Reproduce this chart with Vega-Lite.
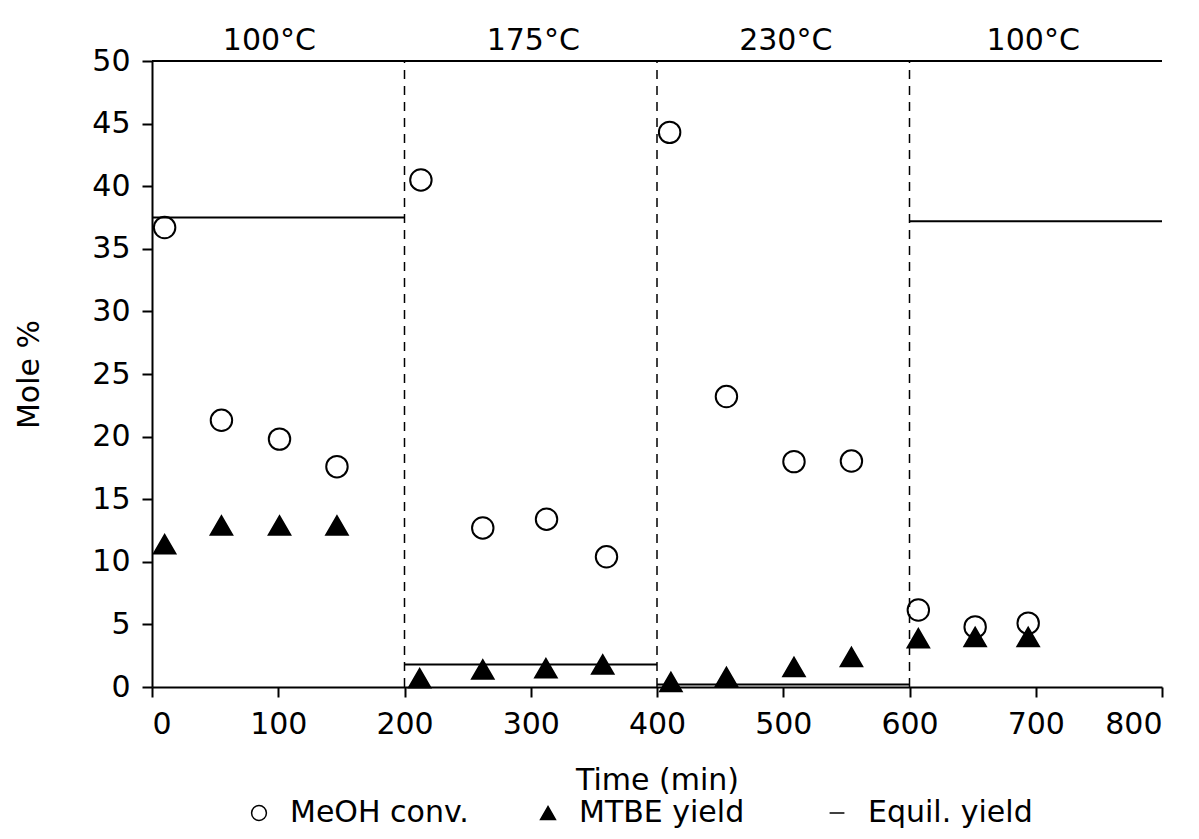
{
  "$schema": "https://vega.github.io/schema/vega-lite/v6.json",
  "width": 1010,
  "height": 626,
  "autosize": "none",
  "padding": {"left": 152, "top": 61, "right": 37, "bottom": 152},
  "background": "white",
  "config": {
    "font": "DejaVu Sans",
    "view": {"stroke": null},
    "axis": {
      "grid": false,
      "domainColor": "black",
      "domainWidth": 2,
      "tickColor": "black",
      "tickWidth": 2,
      "tickSize": 10,
      "labelColor": "black",
      "labelFontSize": 30,
      "labelFont": "DejaVu Sans",
      "titleColor": "black",
      "titleFontSize": 30,
      "titleFont": "DejaVu Sans",
      "titleFontWeight": "normal"
    }
  },
  "datasets": {
    "points": [
      {"time": 10, "value": 36.7, "series": "MeOH conv."},
      {"time": 55, "value": 21.3, "series": "MeOH conv."},
      {"time": 101, "value": 19.8, "series": "MeOH conv."},
      {"time": 146.5, "value": 17.6, "series": "MeOH conv."},
      {"time": 213, "value": 40.5, "series": "MeOH conv."},
      {"time": 262, "value": 12.7, "series": "MeOH conv."},
      {"time": 312.5, "value": 13.4, "series": "MeOH conv."},
      {"time": 360, "value": 10.4, "series": "MeOH conv."},
      {"time": 410, "value": 44.3, "series": "MeOH conv."},
      {"time": 455, "value": 23.2, "series": "MeOH conv."},
      {"time": 508.5, "value": 18.0, "series": "MeOH conv."},
      {"time": 554, "value": 18.05, "series": "MeOH conv."},
      {"time": 607, "value": 6.15, "series": "MeOH conv."},
      {"time": 652, "value": 4.8, "series": "MeOH conv."},
      {"time": 694, "value": 5.1, "series": "MeOH conv."},
      {"time": 10, "value": 11.4, "series": "MTBE yield"},
      {"time": 55, "value": 12.9, "series": "MTBE yield"},
      {"time": 101, "value": 12.9, "series": "MTBE yield"},
      {"time": 146.5, "value": 12.9, "series": "MTBE yield"},
      {"time": 212, "value": 0.7, "series": "MTBE yield"},
      {"time": 262, "value": 1.4, "series": "MTBE yield"},
      {"time": 312, "value": 1.5, "series": "MTBE yield"},
      {"time": 357, "value": 1.8, "series": "MTBE yield"},
      {"time": 411, "value": 0.4, "series": "MTBE yield"},
      {"time": 455, "value": 0.8, "series": "MTBE yield"},
      {"time": 508.5, "value": 1.6, "series": "MTBE yield"},
      {"time": 554, "value": 2.4, "series": "MTBE yield"},
      {"time": 607, "value": 3.9, "series": "MTBE yield"},
      {"time": 652, "value": 4.0, "series": "MTBE yield"},
      {"time": 694, "value": 4.0, "series": "MTBE yield"}
    ],
    "equil": [
      {"start": 0, "end": 200, "value": 37.5},
      {"start": 200, "end": 400, "value": 1.8},
      {"start": 400, "end": 600, "value": 0.2},
      {"start": 600, "end": 800, "value": 37.2}
    ],
    "dividers": [
      {"time": 200},
      {"time": 400},
      {"time": 600}
    ],
    "temps": [
      {"time": 93, "label": "100°C"},
      {"time": 302, "label": "175°C"},
      {"time": 502, "label": "230°C"},
      {"time": 698, "label": "100°C"}
    ]
  },
  "layer": [
    {
      "data": {"values": [{"a": 1}]},
      "mark": {"type": "rule", "color": "black", "strokeWidth": 2},
      "encoding": {
        "x": {"datum": 0, "type": "quantitative", "scale": {"domain": [0, 800], "nice": false}, "axis": {"values": [0, 100, 200, 300, 400, 500, 600, 700, 800], "title": "Time (min)", "labelPadding": 12, "titlePadding": 26}},
        "x2": {"datum": 800},
        "y": {"datum": 50, "type": "quantitative", "scale": {"domain": [0, 50], "nice": false}, "axis": {"values": [0, 5, 10, 15, 20, 25, 30, 35, 40, 45, 50], "title": "Mole %", "labelPadding": 12, "titlePadding": 47}}
      }
    },
    {
      "data": {"name": "dividers"},
      "mark": {"type": "rule", "color": "black", "strokeWidth": 1.5, "strokeDash": [9, 7]},
      "encoding": {
        "x": {"field": "time", "type": "quantitative"},
        "y": {"datum": 0, "type": "quantitative"},
        "y2": {"datum": 50}
      }
    },
    {
      "data": {"name": "equil"},
      "mark": {"type": "rule", "color": "black", "strokeWidth": 2},
      "encoding": {
        "x": {"field": "start", "type": "quantitative"},
        "x2": {"field": "end"},
        "y": {"field": "value", "type": "quantitative"}
      }
    },
    {
      "data": {"name": "points"},
      "mark": {"type": "point", "color": "black", "strokeWidth": 2, "opacity": 1, "size": 460},
      "encoding": {
        "x": {"field": "time", "type": "quantitative"},
        "y": {"field": "value", "type": "quantitative"},
        "shape": {
          "field": "series", "type": "nominal",
          "scale": {"domain": ["MeOH conv.", "MTBE yield", "Equil. yield"], "range": ["circle", "triangle-up", "stroke"]},
          "legend": {
            "title": null, "orient": "none", "direction": "horizontal",
            "legendX": 92, "legendY": 737, "padding": 0, "gridAlign": "all",
            "labelFontSize": 30, "labelFont": "DejaVu Sans", "labelColor": "black", "labelLimit": 500,
            "symbolSize": 220, "labelOffset": 16, "columnPadding": 64,
            "encode": {"symbols": {"update": {"stroke": {"value": "black"}, "strokeWidth": {"value": 1.5}, "opacity": {"value": 1}}}}
          }
        },
        "fill": {
          "field": "series", "type": "nominal",
          "scale": {"domain": ["MeOH conv.", "MTBE yield", "Equil. yield"], "range": ["transparent", "black", "black"]},
          "legend": {
            "title": null, "orient": "none", "direction": "horizontal",
            "legendX": 92, "legendY": 737, "padding": 0, "gridAlign": "all",
            "labelFontSize": 30, "labelFont": "DejaVu Sans", "labelColor": "black", "labelLimit": 500,
            "symbolSize": 220, "labelOffset": 16, "columnPadding": 64,
            "encode": {"symbols": {"update": {"stroke": {"value": "black"}, "strokeWidth": {"value": 1.5}, "opacity": {"value": 1}}}}
          }
        }
      }
    },
    {
      "data": {"name": "temps"},
      "mark": {"type": "text", "fontSize": 30, "font": "DejaVu Sans", "color": "black", "baseline": "alphabetic", "align": "center"},
      "encoding": {
        "x": {"field": "time", "type": "quantitative"},
        "y": {"datum": 50.9, "type": "quantitative"},
        "text": {"field": "label"}
      }
    }
  ]
}
